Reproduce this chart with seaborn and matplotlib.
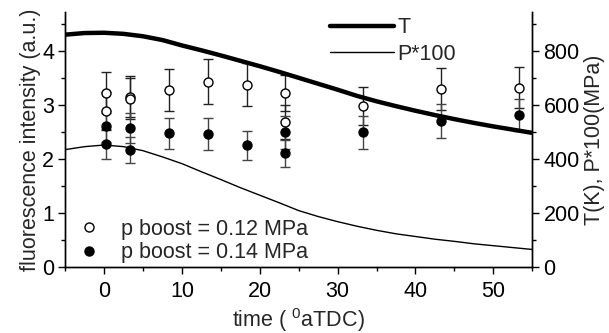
import matplotlib
matplotlib.use("Agg")
import matplotlib.pyplot as plt
import seaborn as sns
import pandas as pd
from matplotlib.ticker import MultipleLocator
from matplotlib.lines import Line2D

# ---- data ----
x_open = [0.3, 0.3, 3.3, 3.3, 8.3, 13.3, 18.3, 23.3, 23.3, 33.3, 43.3, 53.3]
y_open = [3.22, 2.88, 3.15, 3.11, 3.28, 3.43, 3.37, 3.22, 2.68, 2.98, 3.29, 3.32]
e_open = [0.38, 0.35, 0.38, 0.38, 0.39, 0.41, 0.40, 0.33, 0.32, 0.35, 0.39, 0.38]

x_filled = [0.3, 0.3, 3.3, 3.3, 8.3, 13.3, 18.3, 23.3, 23.3, 33.3, 43.3, 53.3]
y_filled = [2.60, 2.27, 2.57, 2.16, 2.47, 2.46, 2.25, 2.49, 2.10, 2.49, 2.70, 2.81]
e_filled = [0.28, 0.28, 0.27, 0.24, 0.29, 0.29, 0.27, 0.30, 0.25, 0.30, 0.32, 0.30]

t_curve = [-5, -2.5, 0, 2.5, 5, 7.5, 10, 12.5, 15, 17.5, 20, 22.5, 25, 27.5,
           30, 32.5, 35, 37.5, 40, 42.5, 45, 47.5, 50, 52.5, 55]
T_vals = [860, 866, 867, 863, 854, 840, 820, 802, 783, 763, 743, 722, 700, 678,
          656, 633, 613, 595, 578, 562, 547, 533, 520, 508, 496]
P_vals = [434, 445, 451, 445, 430, 407, 382, 352, 323, 293, 265, 237, 208, 186,
          167, 150, 135, 122, 112, 102, 94, 85, 78, 71, 64]

label_open = "p boost = 0.12 MPa"
label_filled = "p boost = 0.14 MPa"

# ---- style ----
sns.set_style("ticks")
plt.rcParams["font.family"] = ["Liberation Sans", "DejaVu Sans"]
plt.rcParams["mathtext.fontset"] = "custom"
plt.rcParams["mathtext.rm"] = "Liberation Sans"
FS = 15.5

fig = plt.figure(figsize=(6.09, 3.33), dpi=100)
ax = fig.add_axes([0.107, 0.199, 0.767, 0.765])
ax2 = ax.twinx()

# error bars
ax.errorbar(x_open, y_open, yerr=e_open, fmt="none", ecolor="#222222",
            elinewidth=1.0, capsize=3.5, capthick=1.0, zorder=2)
ax.errorbar(x_filled, y_filled, yerr=e_filled, fmt="none", ecolor="#444444",
            elinewidth=1.0, capsize=3.5, capthick=1.0, zorder=2)

df_open = pd.DataFrame({"x": x_open, "y": y_open})
df_filled = pd.DataFrame({"x": x_filled, "y": y_filled})
sns.scatterplot(data=df_open, x="x", y="y", ax=ax, marker="o", s=42,
                facecolor="white", edgecolor="black", linewidth=1.0, zorder=3)
sns.scatterplot(data=df_filled, x="x", y="y", ax=ax, marker="o", s=42,
                color="black", edgecolor="black", linewidth=1.0, zorder=3)

df_curve = pd.DataFrame({"x": t_curve, "T": T_vals, "P": P_vals})
sns.lineplot(data=df_curve, x="x", y="T", ax=ax2, color="black", linewidth=3.2)
sns.lineplot(data=df_curve, x="x", y="P", ax=ax2, color="black", linewidth=1.0)

# axes limits / ticks
ax.set_xlim(-5, 55)
ax.set_ylim(0, 4.72)
ax2.set_ylim(0, 944)
ax.xaxis.set_major_locator(MultipleLocator(10))
ax.xaxis.set_minor_locator(MultipleLocator(5))
ax.yaxis.set_major_locator(MultipleLocator(1))
ax.yaxis.set_minor_locator(MultipleLocator(0.5))
ax2.yaxis.set_major_locator(MultipleLocator(200))
ax2.yaxis.set_minor_locator(MultipleLocator(100))

for a in (ax, ax2):
    a.tick_params(which="major", length=5, width=1.0, direction="out",
                  labelsize=FS, color="black", labelcolor="black", pad=3)
    a.tick_params(which="minor", length=3, width=1.0, direction="out",
                  color="black")
    for s in a.spines.values():
        s.set_linewidth(1.0)
        s.set_color("black")
ax.tick_params(axis="x", which="major", pad=5)
ax.spines["top"].set_visible(False)
ax2.spines["top"].set_visible(False)

ax.set_xlabel(r"time ( $^{0}$aTDC)", fontsize=FS, labelpad=3)
ax.set_ylabel("fluorescence intensity (a.u.)", fontsize=FS, labelpad=1)
ax2.set_ylabel("T(K), P*100(MPa)", fontsize=FS, labelpad=3)

# legends
h1 = [Line2D([], [], marker="o", linestyle="none", markerfacecolor="white",
             markeredgecolor="black", markersize=6.5),
      Line2D([], [], marker="o", linestyle="none", markerfacecolor="black",
             markeredgecolor="black", markersize=6.5)]
leg1 = ax2.legend(h1, [label_open, label_filled], loc="lower left",
                  bbox_to_anchor=(-0.008, -0.045), frameon=False, fontsize=FS,
                  handlelength=1.2, handletextpad=0.85, labelspacing=0.1,
                  borderaxespad=0.3)
ax2.add_artist(leg1)
h2 = [Line2D([], [], color="black", linewidth=3.2),
      Line2D([], [], color="black", linewidth=1.0)]
ax2.legend(h2, ["T", "P*100"], loc="upper left", bbox_to_anchor=(0.525, 1.055),
           frameon=False, fontsize=FS, handlelength=3.0, handletextpad=0.15,
           labelspacing=0.25)

fig.savefig("out.png", dpi=100)
